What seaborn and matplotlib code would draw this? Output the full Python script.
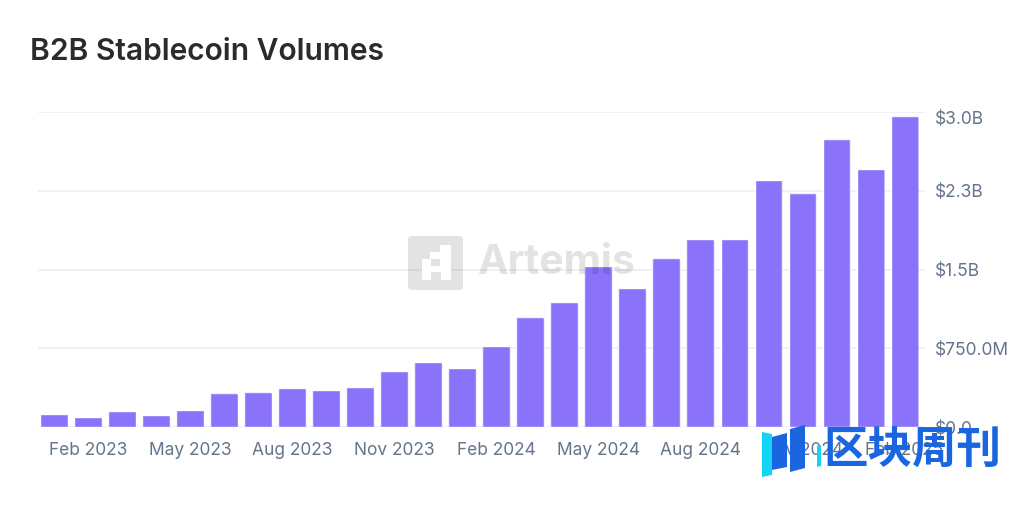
import matplotlib
matplotlib.use("Agg")
import matplotlib.pyplot as plt
import matplotlib.transforms as mtrans
from matplotlib.patches import FancyBboxPatch, Polygon
import pandas as pd
import seaborn as sns

TITLE = "B2B Stablecoin Volumes"
MONTHS = ["Jan 2023", "Feb 2023", "Mar 2023", "Apr 2023", "May 2023", "Jun 2023", "Jul 2023",
          "Aug 2023", "Sep 2023", "Oct 2023", "Nov 2023", "Dec 2023", "Jan 2024", "Feb 2024",
          "Mar 2024", "Apr 2024", "May 2024", "Jun 2024", "Jul 2024", "Aug 2024", "Sep 2024",
          "Oct 2024", "Nov 2024", "Dec 2024", "Jan 2025", "Feb 2025"]
VOLUMES = [0.125, 0.10, 0.155, 0.115, 0.165, 0.32, 0.33, 0.37, 0.355, 0.385, 0.535, 0.62, 0.565,
           0.775, 1.045, 1.19, 1.535, 1.325, 1.605, 1.79, 1.79, 2.355, 2.225, 2.74, 2.46, 2.96]
Y_TICKS = [0, 0.75, 1.5, 2.25, 3.0]
Y_LABELS = ["$0.0", "$750.0M", "$1.5B", "$2.3B", "$3.0B"]

PURPLE = "#8a72fa"
SLATE = "#64748b"
W, H = 1033, 519

sns.set_theme(style="white")
plt.rcParams["font.family"] = ["Inter", "DejaVu Sans"]

df = pd.DataFrame({"month": MONTHS, "volume": VOLUMES})

fig = plt.figure(figsize=(W / 100, H / 100), dpi=100, facecolor="white")
ax = fig.add_axes([37.5 / W, 1 - 427 / H, (925 - 37.5) / W, (427 - 112) / H])

sns.barplot(data=df, x="month", y="volume", color=PURPLE, saturation=1, width=0.82, ax=ax, zorder=3)
ax.set_xlim(-0.485, 25.6)
ax.set_ylim(0, 3.0)

# round off the bar tops, bars stay as they are
for bar in ax.patches:
    clip = FancyBboxPatch((bar.get_x(), -0.05), bar.get_width(), bar.get_height() + 0.05,
                          boxstyle="round,pad=0,rounding_size=0.07", mutation_aspect=0.32,
                          transform=ax.transData)
    bar.set_clip_path(clip)

ax.set_xlabel("")
ax.set_ylabel("")
ax.set_xticks(range(1, len(MONTHS), 3))
ax.set_xticklabels(MONTHS[1::3], fontsize=12.5, color=SLATE)
ax.yaxis.tick_right()
ax.set_yticks(Y_TICKS)
ax.set_yticklabels(Y_LABELS, fontsize=12.5, color=SLATE)
ax.tick_params(axis="x", length=0, pad=11)
ax.tick_params(axis="y", length=0, pad=7.5)

# top label is pushed down in the original so it stays inside the chart
top_label = ax.get_yticklabels()[-1]
top_label.set_transform(top_label.get_transform()
                        + mtrans.ScaledTranslation(0, -6 / 100, fig.dpi_scale_trans))

ax.grid(axis="y", color="#eeeef8", linewidth=1.2, zorder=0)
ax.set_axisbelow(True)
sns.despine(ax=ax, left=True, right=True, top=True, bottom=True)

fig.text(30 / W, 1 - 52 / H, TITLE, fontsize=21.6, fontweight="semibold", color="#2b2b2b", va="center")

# pixel coordinates for the two watermarks
px = mtrans.Affine2D().scale(1 / W, -1 / H).translate(0, 1) + fig.transFigure

# Artemis watermark
fig.add_artist(FancyBboxPatch((408, 236), 55, 54, boxstyle="round,pad=0,rounding_size=4",
                              transform=px, fc="black", ec="none", alpha=0.11, zorder=5))
fig.add_artist(Polygon([(440, 245), (451, 245), (451, 280), (441, 280), (441, 272), (431, 272),
                        (431, 280), (422, 280), (422, 259), (430, 259), (430, 252), (440, 252)],
                       transform=px, fc="white", ec="none", zorder=6))
fig.add_artist(Polygon([(431, 259), (440, 259), (440, 266), (431, 266)],
                       transform=px, fc="#e3e3e3", ec="none", zorder=7))
fig.text(477 / W, 1 - 263 / H, "Artemis", fontsize=29.5, fontweight="bold", color="black",
         alpha=0.11, va="center", zorder=5)

# 区块周刊 watermark on top of the tick labels
CYAN = "#12d5f5"
BLUE = "#1a66e0"
fig.add_artist(Polygon([(762, 432), (772, 434), (772, 475), (762, 477)], transform=px, fc=CYAN, ec="none", zorder=8))
fig.add_artist(Polygon([(772, 437), (787, 433), (787, 467), (772, 470)], transform=px, fc=BLUE, ec="none", zorder=8))
fig.add_artist(Polygon([(790, 429), (805, 425), (805, 468), (790, 472)], transform=px, fc=BLUE, ec="none", zorder=8))
fig.add_artist(Polygon([(817, 446), (821, 445), (821, 466), (817, 467)], transform=px, fc=CYAN, ec="none", zorder=8))
fig.text(823 / W, 1 - 451 / H, "区块周刊", fontsize=32, fontweight="bold", color=BLUE, va="center",
         family=["Noto Sans CJK SC", "DejaVu Sans"], zorder=8)

fig.savefig("out.png", dpi=100)
